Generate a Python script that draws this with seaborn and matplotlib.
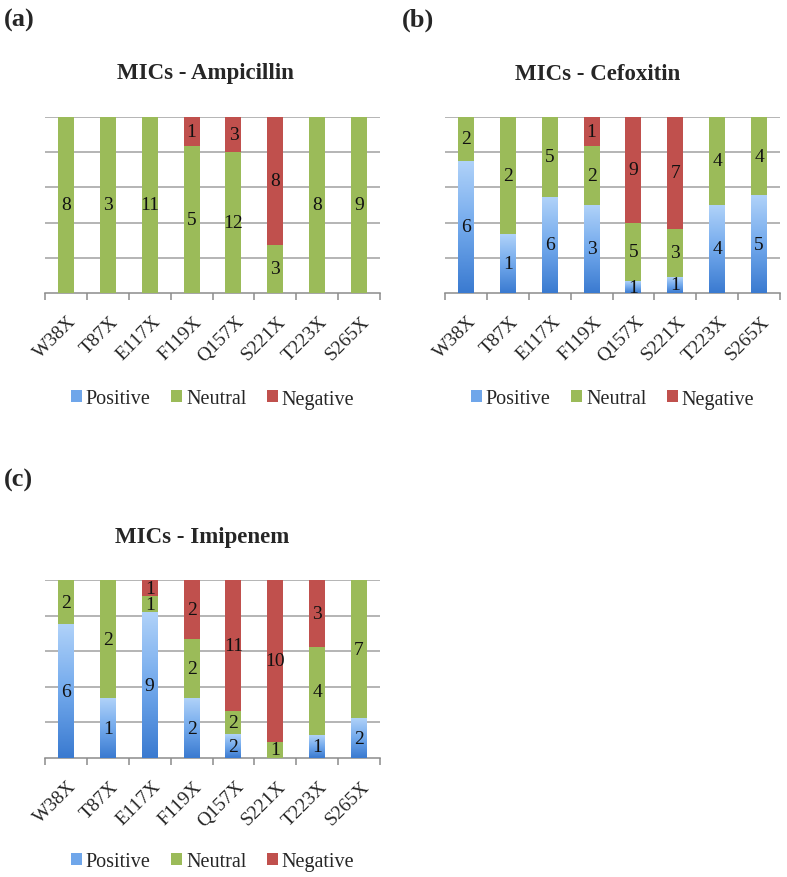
import numpy as np
import matplotlib
matplotlib.use("Agg")
import matplotlib.pyplot as plt
from matplotlib.colors import LinearSegmentedColormap
from matplotlib.patches import Patch
import matplotlib.transforms as mtransforms
import seaborn as sns

mutants = ["W38X", "T87X", "E117X", "F119X", "Q157X", "S221X", "T223X", "S265X"]
amp_pos = [0, 0, 0, 0, 0, 0, 0, 0]
amp_neu = [8, 3, 11, 5, 12, 3, 8, 9]
amp_neg = [0, 0, 0, 1, 3, 8, 0, 0]
cef_pos = [6, 1, 6, 3, 1, 1, 4, 5]
cef_neu = [2, 2, 5, 2, 5, 3, 4, 4]
cef_neg = [0, 0, 0, 1, 9, 7, 0, 0]
imi_pos = [6, 1, 9, 2, 2, 0, 1, 2]
imi_neu = [2, 2, 1, 2, 2, 1, 4, 7]
imi_neg = [0, 0, 1, 2, 11, 10, 3, 0]
series_names = ["Positive", "Neutral", "Negative"]
titles = ["MICs - Ampicillin", "MICs - Cefoxitin", "MICs - Imipenem"]
panel_tags = ["(a)", "(b)", "(c)"]

sns.set_theme(style="white")
plt.rcParams["font.family"] = ["Liberation Serif", "DejaVu Serif"]

W, H = 787, 878
fig = plt.figure(figsize=(W / 100, H / 100), dpi=100)

def fx(x):
    return x / W

def fy(y):
    return 1 - y / H

GREEN = "#9BBB59"
RED = "#C0504D"
BLUE_MID = "#6FA6EA"
blue_cmap = LinearSegmentedColormap.from_list("bl", ["#3A7AD0", "#72A9EC", "#B0D2F9"])
GRID = "#A0A0A0"

def draw_panel(rect, pos, neu, neg, title, tag, title_xy, tag_xy, legend_y):
    left, top, right, bottom = rect
    ax = fig.add_axes([fx(left), fy(bottom), (right - left) / W, (bottom - top) / H])
    pos = np.array(pos, float)
    neu = np.array(neu, float)
    neg = np.array(neg, float)
    tot = pos + neu + neg
    p_f = pos / tot
    n_f = neu / tot
    g_f = neg / tot
    bw = 0.38
    sns.barplot(x=mutants, y=p_f + n_f + g_f, color=RED, width=bw, saturation=1,
                errorbar=None, linewidth=0, ax=ax, zorder=3)
    sns.barplot(x=mutants, y=p_f + n_f, color=GREEN, width=bw, saturation=1,
                errorbar=None, linewidth=0, ax=ax, zorder=4)
    n_before = len(ax.patches)
    sns.barplot(x=mutants, y=p_f, color=BLUE_MID, width=bw, saturation=1,
                errorbar=None, linewidth=0, ax=ax, zorder=5)
    grad = np.linspace(0, 1, 256).reshape(-1, 1)
    for p in ax.patches[n_before:]:
        x0, y0 = p.get_xy()
        w, h = p.get_width(), p.get_height()
        if h > 0:
            ax.imshow(grad, extent=[x0, x0 + w, y0, y0 + h], aspect="auto",
                      cmap=blue_cmap, origin="lower", zorder=5.5, interpolation="bilinear")
    ax.set_xlim(-0.5, len(mutants) - 0.5)
    ax.set_ylim(0, 1)
    ax.set_aspect("auto")
    # segment labels
    for i in range(len(mutants)):
        base = 0.0
        for frac, val in ((p_f[i], pos[i]), (n_f[i], neu[i]), (g_f[i], neg[i])):
            if val > 0:
                ax.text(i, base + frac / 2, f"{int(val)}", ha="center", va="center",
                        fontsize=14, color="#111111", zorder=10)
            base += frac
    # grid
    ax.set_yticks([0.2, 0.4, 0.6, 0.8, 1.0])
    ax.set_yticklabels([])
    ax.tick_params(axis="y", length=0)
    ax.grid(axis="y", color=GRID, linewidth=1.1, zorder=0)
    ax.set_axisbelow(True)
    for s in ["left", "right", "top"]:
        ax.spines[s].set_visible(False)
    ax.spines["bottom"].set_color("#8C8C8C")
    ax.spines["bottom"].set_linewidth(1.1)
    ax.set_xticks(range(len(mutants)))
    ax.set_xticklabels(mutants, rotation=45, ha="right", rotation_mode="anchor",
                       fontsize=14)
    ax.tick_params(axis="x", which="major", length=0, pad=14)
    offset = mtransforms.ScaledTranslation(2 / 100, 0, fig.dpi_scale_trans)
    for lab in ax.get_xticklabels():
        lab.set_transform(lab.get_transform() + offset)
    ax.set_xticks(np.arange(-0.5, len(mutants) + 0.5, 1.0), minor=True)
    ax.tick_params(axis="x", which="minor", length=5, width=1.1, color="#8C8C8C",
                   direction="out", bottom=True)
    ax.set_xlabel("")
    ax.set_ylabel("")
    handles = [Patch(facecolor=BLUE_MID, edgecolor="none"),
               Patch(facecolor=GREEN, edgecolor="none"),
               Patch(facecolor=RED, edgecolor="none")]
    ly = (bottom - legend_y) / (bottom - top)
    ax.legend(handles, series_names, loc="center", bbox_to_anchor=(0.5, ly),
              ncol=3, frameon=False, fontsize=14.5, handlelength=0.55,
              handleheight=0.55, handletextpad=0.2, columnspacing=1.0)
    fig.text(fx(title_xy[0]), fy(title_xy[1]), title, ha="center", va="center",
             fontsize=16.5, fontweight="bold")
    fig.text(fx(tag_xy[0]), fy(tag_xy[1]), tag, ha="left", va="center",
             fontsize=19, fontweight="bold")
    return ax

draw_panel((45, 118, 380, 294), amp_pos, amp_neu, amp_neg, titles[0], panel_tags[0],
           (205, 74), (4, 20), 400)
draw_panel((445, 118, 780, 294), cef_pos, cef_neu, cef_neg, titles[1], panel_tags[1],
           (598, 74), (402, 20), 400)
draw_panel((45, 581, 380, 759), imi_pos, imi_neu, imi_neg, titles[2], panel_tags[2],
           (202, 538), (4, 480), 863)

fig.savefig("out.png", dpi=100, facecolor="white")
